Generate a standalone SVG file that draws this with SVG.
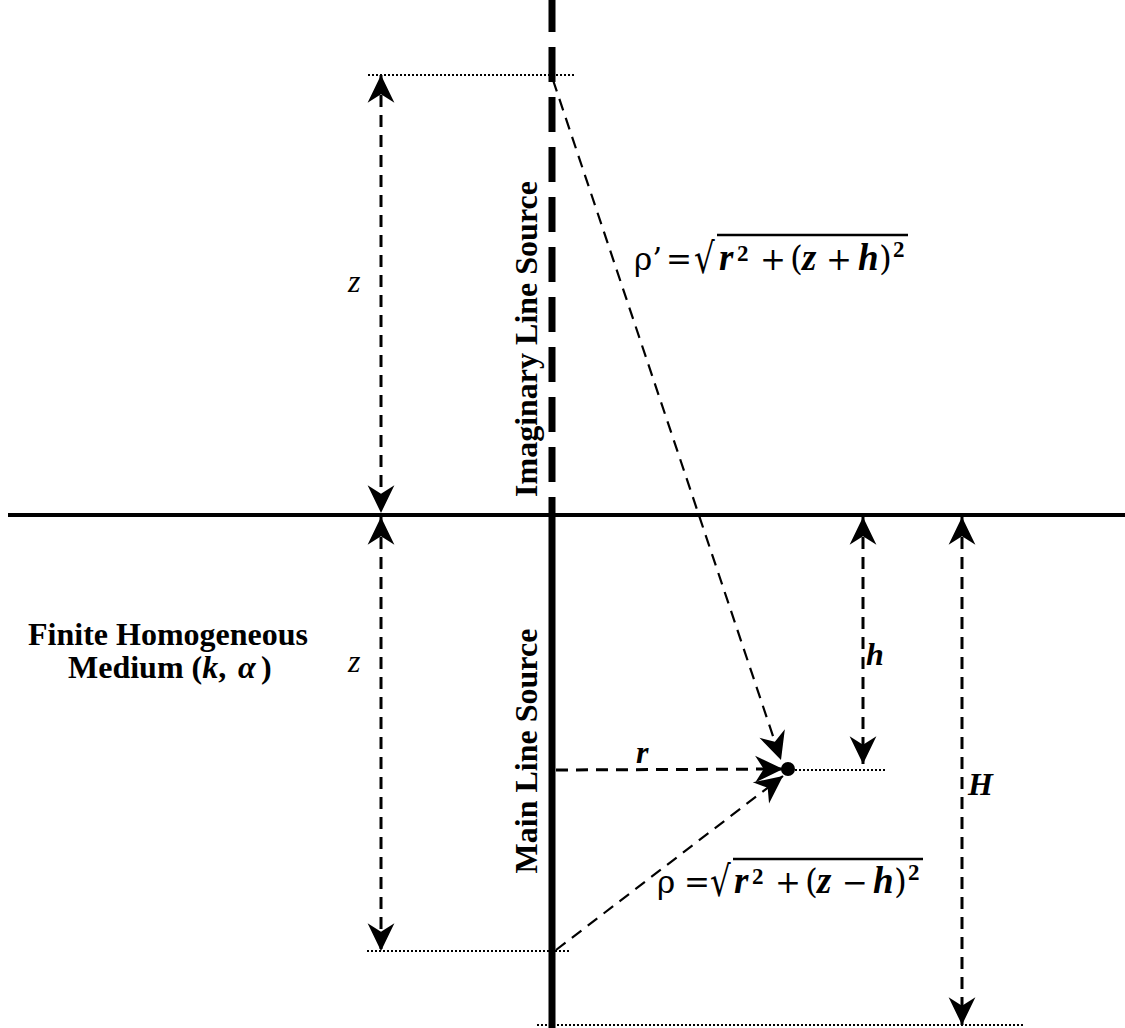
<svg xmlns="http://www.w3.org/2000/svg" width="1125" height="1028" viewBox="0 0 1125 1028">
<style>
.lbl{font-family:"Liberation Serif","Times New Roman",serif;font-weight:bold;font-size:32px;fill:#000}
.var{font-family:"Liberation Serif","Times New Roman",serif;font-style:italic;font-size:32px;fill:#000}
.bv{font-family:"Liberation Serif","Times New Roman",serif;font-style:italic;font-weight:bold;font-size:32px;fill:#000}
.fv{font-family:"Liberation Serif","Times New Roman",serif;font-style:italic;font-weight:bold;font-size:37px;fill:#000}
.fm{font-family:"DejaVu Serif","Liberation Serif",serif;font-size:31px;fill:#000}
.par{font-family:"DejaVu Serif","Liberation Serif",serif;font-size:33px;fill:#000}
.sup{font-family:"Liberation Serif","Times New Roman",serif;font-weight:bold;font-size:23px;fill:#000}
.dim{stroke:#000;stroke-width:3;fill:none;stroke-dasharray:12 8}
.ray{stroke:#000;stroke-width:2.2;fill:none;stroke-dasharray:12 8}
.dot{stroke:#000;stroke-width:2;fill:none;stroke-dasharray:2 2}
</style>
<defs>
<marker id="ah" markerUnits="userSpaceOnUse" markerWidth="30" markerHeight="30" viewBox="-27 -14 28 28" refX="0" refY="0" orient="auto-start-reverse">
<path d="M0,0 L-26,-12.5 L-18,0 L-26,12.5 Z" fill="#000"/>
</marker>
</defs>
<g id="ground">
<line x1="8" y1="515" x2="1125" y2="515" stroke="#000" stroke-width="4"/>
</g>
<g id="imaginary-source">
<line x1="552" y1="-3" x2="552" y2="515" stroke="#000" stroke-width="7" stroke-dasharray="35 15"/>
<text class="lbl" transform="translate(537,339) rotate(-90)" text-anchor="middle">Imaginary Line Source</text>
</g>
<g id="main-source">
<line x1="552" y1="515" x2="552" y2="1028" stroke="#000" stroke-width="7"/>
<text class="lbl" transform="translate(537,751) rotate(-90)" text-anchor="middle">Main Line Source</text>
</g>
<g id="medium">
<text class="lbl" x="168" y="645" text-anchor="middle">Finite Homogeneous</text>
<text class="lbl" x="68" y="678">Medium (<tspan font-style="italic">k</tspan>,</text>
<text class="var" x="238" y="678" font-size="35" font-weight="bold">α</text>
<text class="lbl" x="261" y="678">)</text>
</g>
<g id="point">
<circle cx="788" cy="769" r="7" fill="#000"/>
</g>
<g id="guides">
<line class="dot" x1="368" y1="75" x2="574" y2="75"/>
<line class="dot" x1="367" y1="951" x2="571" y2="951"/>
<line class="dot" x1="537" y1="1025" x2="1025" y2="1025"/>
<line class="dot" x1="795" y1="770" x2="887" y2="770"/>
</g>
<g id="connectors">
<line class="dim" x1="381" y1="75" x2="381" y2="513" marker-start="url(#ah)" marker-end="url(#ah)"/>
<line class="dim" x1="381" y1="517" x2="381" y2="951" marker-start="url(#ah)" marker-end="url(#ah)"/>
<line class="dim" x1="863" y1="517" x2="863" y2="764" marker-start="url(#ah)" marker-end="url(#ah)"/>
<line class="dim" x1="962" y1="517" x2="962" y2="1025" marker-start="url(#ah)" marker-end="url(#ah)"/>
<line class="dim" x1="556" y1="770" x2="783" y2="769" marker-end="url(#ah)"/>
<line class="ray" x1="553" y1="80" x2="781" y2="760" marker-end="url(#ah)"/>
<line class="ray" x1="556" y1="950" x2="783" y2="776" marker-end="url(#ah)"/>
</g>
<g id="labels">
<text class="var" x="348" y="292">z</text>
<text class="var" x="348" y="672">z</text>
<text class="bv" x="636" y="763">r</text>
<text class="bv" x="866" y="665">h</text>
<text class="bv" x="968" y="795">H</text>
</g>
<g id="formula-prime">
<text class="fm" x="634" y="270">ρ’</text>
<text class="fm" x="666" y="270">=</text>
<text class="fm" transform="translate(694,273) scale(1.05,1.35)">√</text>
<line x1="717" y1="235" x2="908" y2="235" stroke="#000" stroke-width="2.5"/>
<text class="fv" x="719" y="270">r</text>
<text class="sup" x="737" y="261">2</text>
<text class="fm" x="760" y="270">+</text>
<text class="par" x="790" y="270">(</text>
<text class="fv" x="802" y="270">z</text>
<text class="fm" x="826" y="270">+</text>
<text class="fv" x="858" y="270">h</text>
<text class="par" x="879" y="270">)</text>
<text class="sup" x="893" y="257">2</text>
</g>
<g id="formula">
<text class="fm" x="657" y="893">ρ</text>
<text class="fm" x="684" y="893">=</text>
<text class="fm" transform="translate(710,896) scale(1.05,1.35)">√</text>
<line x1="733" y1="859" x2="923" y2="859" stroke="#000" stroke-width="2.5"/>
<text class="fv" x="734" y="893">r</text>
<text class="sup" x="752" y="884">2</text>
<text class="fm" x="775" y="893">+</text>
<text class="par" x="805" y="893">(</text>
<text class="fv" x="817" y="893">z</text>
<text class="fm" x="842" y="893">−</text>
<text class="fv" x="873" y="893">h</text>
<text class="par" x="894" y="893">)</text>
<text class="sup" x="908" y="880">2</text>
</g>
</svg>
